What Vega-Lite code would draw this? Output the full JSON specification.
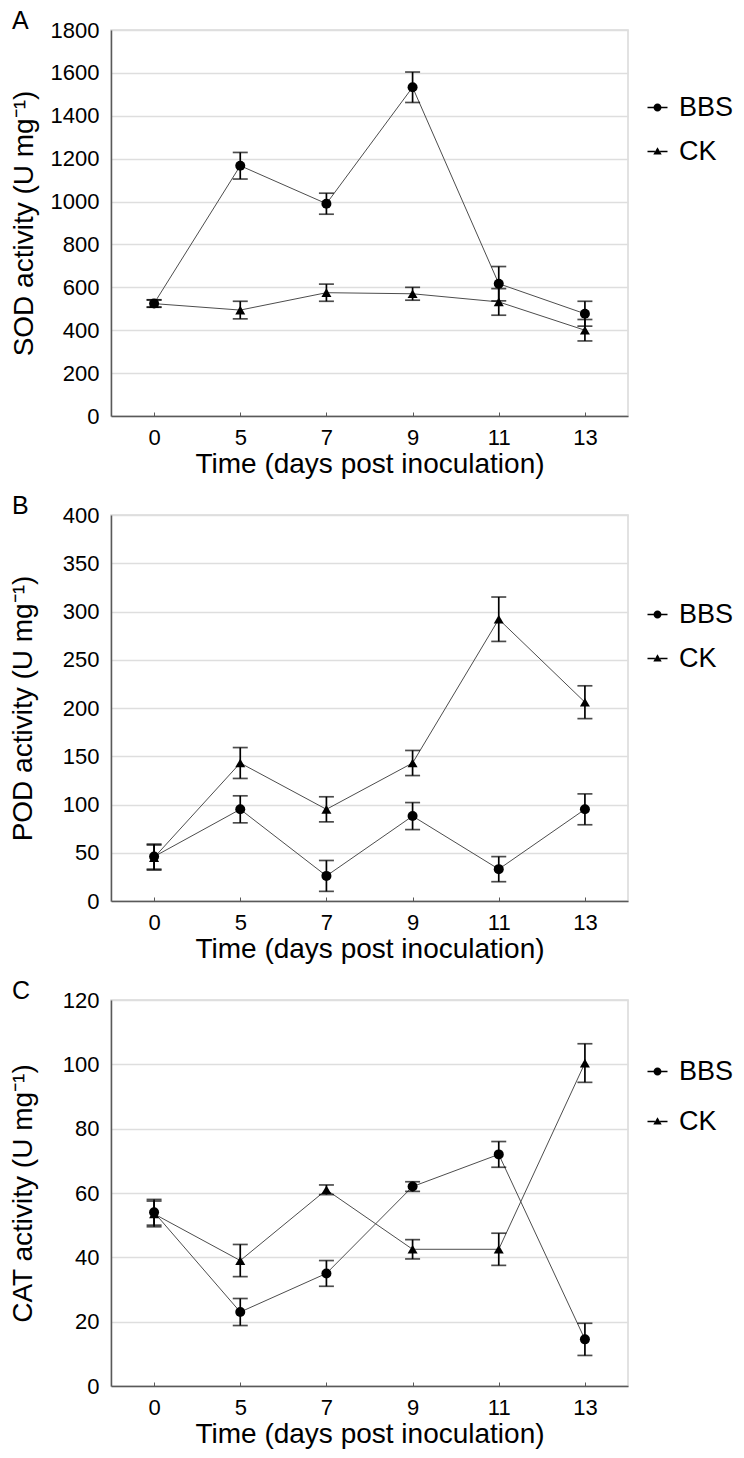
{
  "$schema": "https://vega.github.io/schema/vega-lite/v6.json",
  "padding": {"left": 8, "top": 8, "right": 5, "bottom": 2},
  "spacing": 14,
  "datasets": {
    "sod": [
      {"group": "BBS", "day": 0, "mean": 525, "sd": 17},
      {"group": "BBS", "day": 5, "mean": 1167, "sd": 62},
      {"group": "BBS", "day": 7, "mean": 990, "sd": 49},
      {"group": "BBS", "day": 9, "mean": 1533, "sd": 71},
      {"group": "BBS", "day": 11, "mean": 617, "sd": 80},
      {"group": "BBS", "day": 13, "mean": 477, "sd": 58},
      {"group": "CK", "day": 0, "mean": 524, "sd": 17},
      {"group": "CK", "day": 5, "mean": 494, "sd": 41},
      {"group": "CK", "day": 7, "mean": 575, "sd": 40},
      {"group": "CK", "day": 9, "mean": 570, "sd": 30},
      {"group": "CK", "day": 11, "mean": 532, "sd": 62},
      {"group": "CK", "day": 13, "mean": 400, "sd": 50}
    ],
    "pod": [
      {"group": "BBS", "day": 0, "mean": 46, "sd": 13},
      {"group": "BBS", "day": 5, "mean": 95, "sd": 14},
      {"group": "BBS", "day": 7, "mean": 26, "sd": 16},
      {"group": "BBS", "day": 9, "mean": 88, "sd": 14},
      {"group": "BBS", "day": 11, "mean": 33, "sd": 13},
      {"group": "BBS", "day": 13, "mean": 95, "sd": 16},
      {"group": "CK", "day": 0, "mean": 45, "sd": 13},
      {"group": "CK", "day": 5, "mean": 143, "sd": 16},
      {"group": "CK", "day": 7, "mean": 95, "sd": 13},
      {"group": "CK", "day": 9, "mean": 143, "sd": 13},
      {"group": "CK", "day": 11, "mean": 292, "sd": 23},
      {"group": "CK", "day": 13, "mean": 206, "sd": 17}
    ],
    "cat": [
      {"group": "BBS", "day": 0, "mean": 54, "sd": 4},
      {"group": "BBS", "day": 5, "mean": 23, "sd": 4.2},
      {"group": "BBS", "day": 7, "mean": 35, "sd": 4},
      {"group": "BBS", "day": 9, "mean": 62, "sd": 1.5},
      {"group": "BBS", "day": 11, "mean": 72, "sd": 4},
      {"group": "BBS", "day": 13, "mean": 14.5, "sd": 5},
      {"group": "CK", "day": 0, "mean": 53.5, "sd": 4},
      {"group": "CK", "day": 5, "mean": 39, "sd": 5},
      {"group": "CK", "day": 7, "mean": 61, "sd": 1.5},
      {"group": "CK", "day": 9, "mean": 42.5, "sd": 3},
      {"group": "CK", "day": 11, "mean": 42.5, "sd": 5},
      {"group": "CK", "day": 13, "mean": 100.4, "sd": 6}
    ],
    "none": []
  },
  "vconcat": [
    {
      "title": {"text": "A"},
      "width": 517, "height": 386,
      "data": {"name": "sod"},
      "encoding": {
        "x": {"field": "day", "type": "ordinal", "title": "Time (days post inoculation)", "scale": {"type": "point", "padding": 0.5}}
      },
      "resolve": {"scale": {"shape": "independent"}},
      "layer": [
        {"mark": {"type": "line", "color": "#4d4d4d", "strokeWidth": 1},
         "encoding": {"y": {"field": "mean", "type": "quantitative", "title": "SOD activity (U mg⁻¹)", "scale": {"domain": [0, 1800]}, "axis": {"values": [0,200,400,600,800,1000,1200,1400,1600,1800], "titlePadding": 12}}, "detail": {"field": "group"}}},
        {"mark": {"type": "errorbar", "ticks": {"size": 15}, "thickness": 1.7, "color": "black"},
         "encoding": {"y": {"field": "mean", "type": "quantitative", "title": "SOD activity (U mg⁻¹)"}, "yError": {"field": "sd"}, "detail": {"field": "group"}}},
        {"mark": {"type": "point", "filled": true, "color": "black", "opacity": 1, "size": 100},
         "encoding": {"y": {"field": "mean", "type": "quantitative", "title": "SOD activity (U mg⁻¹)"}, "shape": {"field": "group", "scale": {"domain": ["BBS", "CK"], "range": ["circle", "triangle-up"]}, "legend": null}}},
        {"data": {"name": "none"},
         "mark": {"type": "point", "filled": true, "color": "black", "opacity": 1, "size": 400},
         "encoding": {"y": {"field": "mean", "type": "quantitative", "title": "SOD activity (U mg⁻¹)"}, "shape": {"field": "group", "type": "nominal", "scale": {"domain": ["BBS", "CK"], "range": ["M-1,-0.065H-0.38V0.065H-1ZM0.38,-0.065H1V0.065H0.38ZM0.4,0A0.4,0.4,0,1,1,-0.4,0A0.4,0.4,0,1,1,0.4,0Z", "M-1,-0.065H-0.26V0.065H-1ZM0.26,-0.065H1V0.065H0.26ZM0,-0.42L0.42,0.3L-0.42,0.3Z"]},
           "legend": {"title": null, "orient": "none", "legendX": 533, "legendY": 64, "rowPadding": 16, "symbolOpacity": 1}}}}
      ]
    },
    {
      "title": {"text": "B"},
      "width": 517, "height": 386,
      "data": {"name": "pod"},
      "encoding": {
        "x": {"field": "day", "type": "ordinal", "title": "Time (days post inoculation)", "scale": {"type": "point", "padding": 0.5}}
      },
      "resolve": {"scale": {"shape": "independent"}},
      "layer": [
        {"mark": {"type": "line", "color": "#4d4d4d", "strokeWidth": 1},
         "encoding": {"y": {"field": "mean", "type": "quantitative", "title": "POD activity (U mg⁻¹)", "scale": {"domain": [0, 400]}, "axis": {"values": [0,50,100,150,200,250,300,350,400], "titlePadding": 25}}, "detail": {"field": "group"}}},
        {"mark": {"type": "errorbar", "ticks": {"size": 15}, "thickness": 1.7, "color": "black"},
         "encoding": {"y": {"field": "mean", "type": "quantitative", "title": "POD activity (U mg⁻¹)"}, "yError": {"field": "sd"}, "detail": {"field": "group"}}},
        {"mark": {"type": "point", "filled": true, "color": "black", "opacity": 1, "size": 100},
         "encoding": {"y": {"field": "mean", "type": "quantitative", "title": "POD activity (U mg⁻¹)"}, "shape": {"field": "group", "scale": {"domain": ["BBS", "CK"], "range": ["circle", "triangle-up"]}, "legend": null}}},
        {"data": {"name": "none"},
         "mark": {"type": "point", "filled": true, "color": "black", "opacity": 1, "size": 400},
         "encoding": {"y": {"field": "mean", "type": "quantitative", "title": "POD activity (U mg⁻¹)"}, "shape": {"field": "group", "type": "nominal", "scale": {"domain": ["BBS", "CK"], "range": ["M-1,-0.065H-0.38V0.065H-1ZM0.38,-0.065H1V0.065H0.38ZM0.4,0A0.4,0.4,0,1,1,-0.4,0A0.4,0.4,0,1,1,0.4,0Z", "M-1,-0.065H-0.26V0.065H-1ZM0.26,-0.065H1V0.065H0.26ZM0,-0.42L0.42,0.3L-0.42,0.3Z"]},
           "legend": {"title": null, "orient": "none", "legendX": 533, "legendY": 86, "rowPadding": 16, "symbolOpacity": 1}}}}
      ]
    },
    {
      "title": {"text": "C"},
      "width": 517, "height": 386,
      "data": {"name": "cat"},
      "encoding": {
        "x": {"field": "day", "type": "ordinal", "title": "Time (days post inoculation)", "scale": {"type": "point", "padding": 0.5}}
      },
      "resolve": {"scale": {"shape": "independent"}},
      "layer": [
        {"mark": {"type": "line", "color": "#4d4d4d", "strokeWidth": 1},
         "encoding": {"y": {"field": "mean", "type": "quantitative", "title": "CAT activity (U mg⁻¹)", "scale": {"domain": [0, 120]}, "axis": {"values": [0,20,40,60,80,100,120], "titlePadding": 25}}, "detail": {"field": "group"}}},
        {"mark": {"type": "errorbar", "ticks": {"size": 15}, "thickness": 1.7, "color": "black"},
         "encoding": {"y": {"field": "mean", "type": "quantitative", "title": "CAT activity (U mg⁻¹)"}, "yError": {"field": "sd"}, "detail": {"field": "group"}}},
        {"mark": {"type": "point", "filled": true, "color": "black", "opacity": 1, "size": 100},
         "encoding": {"y": {"field": "mean", "type": "quantitative", "title": "CAT activity (U mg⁻¹)"}, "shape": {"field": "group", "scale": {"domain": ["BBS", "CK"], "range": ["circle", "triangle-up"]}, "legend": null}}},
        {"data": {"name": "none"},
         "mark": {"type": "point", "filled": true, "color": "black", "opacity": 1, "size": 400},
         "encoding": {"y": {"field": "mean", "type": "quantitative", "title": "CAT activity (U mg⁻¹)"}, "shape": {"field": "group", "type": "nominal", "scale": {"domain": ["BBS", "CK"], "range": ["M-1,-0.065H-0.38V0.065H-1ZM0.38,-0.065H1V0.065H0.38ZM0.4,0A0.4,0.4,0,1,1,-0.4,0A0.4,0.4,0,1,1,0.4,0Z", "M-1,-0.065H-0.26V0.065H-1ZM0.26,-0.065H1V0.065H0.26ZM0,-0.42L0.42,0.3L-0.42,0.3Z"]},
           "legend": {"title": null, "orient": "none", "legendX": 533, "legendY": 58, "rowPadding": 22, "symbolOpacity": 1}}}}
      ]
    }
  ],
  "resolve": {"scale": {"shape": "independent"}, "legend": {"shape": "independent"}},
  "config": {
    "font": "Liberation Sans",
    "view": {"stroke": "#d9d9d9", "strokeWidth": 1.5},
    "title": {"fontSize": 25, "fontWeight": "normal", "anchor": "start", "frame": "group", "dx": -99, "offset": -15, "color": "black"},
    "axis": {"labelFontSize": 22, "labelColor": "black", "titleFontSize": 28, "titleFontWeight": "normal", "titleColor": "black", "domainColor": "#595959", "domainWidth": 1.5, "gridColor": "#dedede", "gridWidth": 1.5, "tickColor": "#595959", "labelFont": "Liberation Sans", "titleFont": "Liberation Sans", "format": "d"},
    "axisY": {"ticks": false, "labelPadding": 12},
    "axisX": {"grid": false, "labelAngle": 0, "tickSize": -4, "labelPadding": 15, "titlePadding": 2},
    "legend": {"labelFontSize": 27, "labelColor": "black", "labelFont": "Liberation Sans", "symbolSize": 400, "labelOffset": 8, "padding": 0, "symbolStrokeWidth": 0, "symbolFillColor": "black", "symbolOpacity": 1}
  }
}
